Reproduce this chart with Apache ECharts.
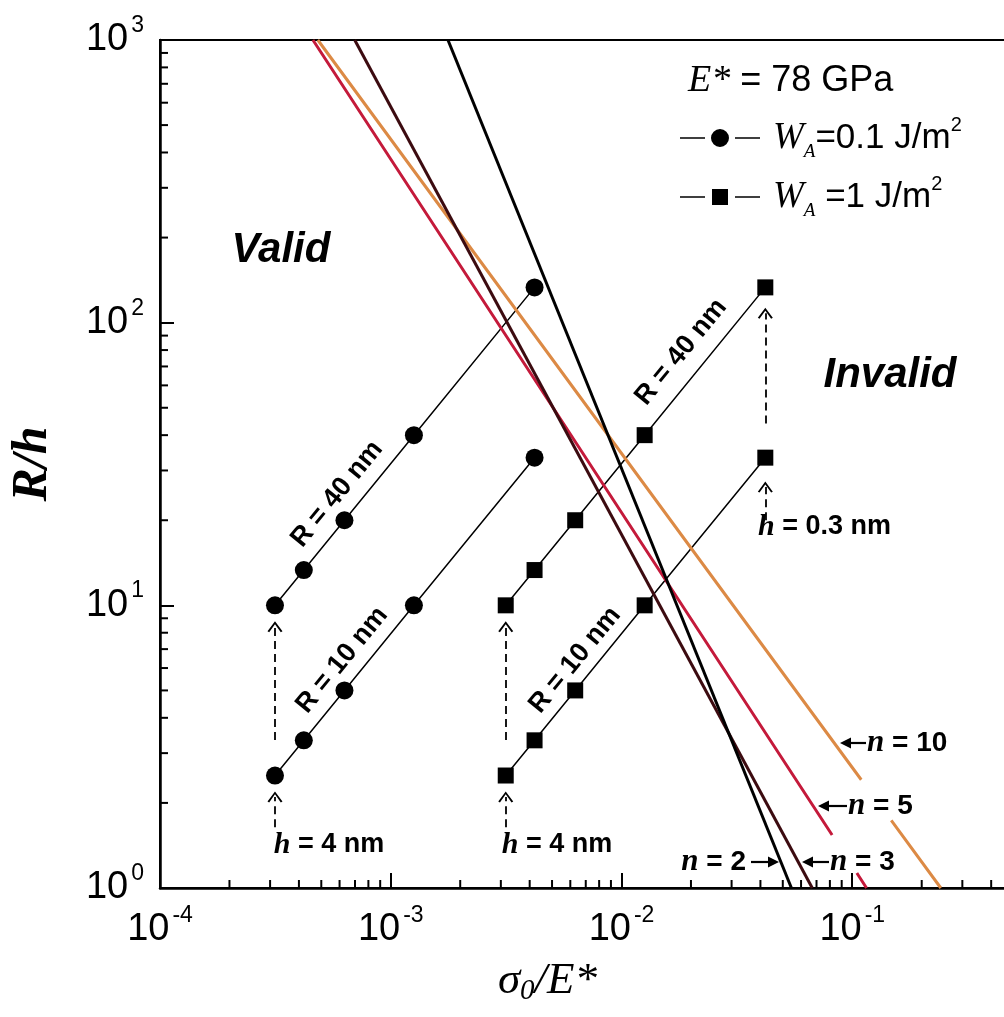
<!DOCTYPE html>
<html><head><meta charset="utf-8">
<script src="https://cdn.jsdelivr.net/npm/echarts@6/dist/echarts.min.js"></script>
<style>html,body{margin:0;padding:0;background:#fff}#c{width:1004px;height:1017px}</style>
</head><body><div id="c"></div>
<script>
// ---- data ----
const hValues = [4, 3, 2, 1, 0.3];                              // h (nm)
const xCircles = [3.15e-4, 4.2e-4, 6.3e-4, 1.26e-3, 4.2e-3];    // sigma0/E*, W_A = 0.1 J/m2
const xSquares = [3.15e-3, 4.2e-3, 6.3e-3, 1.26e-2, 4.2e-2];    // sigma0/E*, W_A = 1 J/m2
const rhR40 = [10, 13.33, 20, 40, 133.3];                       // R/h, R = 40 nm
const rhR10 = [2.5, 3.33, 5, 10, 33.3];                         // R/h, R = 10 nm
// critical lines (null = gap in the drawn line)
const n2X = [1.77e-3, 0.0545],  n2Y = [1000, 1];
const n3X = [6.98e-4, 0.0671],  n3Y = [1000, 1];
const n5X = [4.6e-4, 0.0818, null, 0.1047, 0.1153], n5Y = [1000, 1.54, null, 1.13, 1];
const n10X = [4.83e-4, 0.1094, null, 0.1476, 0.242], n10Y = [1000, 2.415, null, 1.734, 1];
// dashed arrows: [x, yFrom, yTo]
const dashArrows = [
  [3.15e-4, 1.64, 2.1], [3.15e-4, 3.34, 8.4],
  [3.15e-3, 1.64, 2.1], [3.15e-3, 3.34, 8.4],
  [4.2e-2, 20, 26.2], [4.2e-2, 44, 108]
];

const sans = 'Liberation Sans', serif = 'Liberation Serif';
const pair = (xs, ys) => xs.map((x, i) => (x === null ? [null, '-'] : [x, ys[i]]));

// minor ticks (log 2..9 per decade)
const minorTicks = [];
for (let d = -4; d <= -1; d++) for (let k = 2; k <= 9; k++) minorTicks.push([k * Math.pow(10, d), 1, 0]);
for (let d = 0; d <= 2; d++) for (let k = 2; k <= 9; k++) minorTicks.push([1e-4, k * Math.pow(10, d), 1]);

const chevron = 'path://M8,0 L16,11 L14.2,12 L8,3.2 L1.8,12 L0,11 Z';
const iconCircle = 'path://M0,8.3 h25 v1.4 h-25 Z M55,8.3 h25 v1.4 h-25 Z M40,0 A9,9 0 1,1 39.99,0 Z';
const iconSquare = 'path://M0,7.3 h25 v1.4 h-25 Z M55,7.3 h25 v1.4 h-25 Z M32,0 h16 v16 h-16 Z';

const tickRich = {
  b: {fontFamily: sans, fontSize: 38, lineHeight: 52, color: '#000'},
  s: {fontFamily: sans, fontSize: 23, lineHeight: 22, verticalAlign: 'top', padding: [0, 0, 0, 3], color: '#000'}
};
const pow10 = v => '{b|10}{s|' + Math.round(Math.log10(v)) + '}';

const markerLine = {color: '#000', width: 1.5};

const chart = echarts.init(document.getElementById('c'));
chart.setOption({
  animation: false,
  backgroundColor: '#fff',
  grid: {left: 160, top: 40, width: 923, height: 848, show: true, borderColor: '#000', borderWidth: 2,
         containLabel: false, outerBoundsMode: 'none'},
  xAxis: {
    type: 'log', logBase: 10, min: 1e-4, max: 1,
    axisLine: {lineStyle: {color: '#000', width: 2.5}},
    axisTick: {inside: true, length: 15, lineStyle: {color: '#000', width: 2}},
    splitLine: {show: false},
    axisLabel: {formatter: pow10, rich: tickRich, margin: 16},
    name: '{i|σ}{sub|0}{i|/E*}', nameLocation: 'middle', nameGap: 68,
    nameTextStyle: {padding: [0, 148, 0, 0], rich: {
      i: {fontFamily: serif, fontStyle: 'italic', fontSize: 45, lineHeight: 50, color: '#000'},
      sub: {fontFamily: serif, fontStyle: 'italic', fontSize: 29, lineHeight: 29, verticalAlign: 'bottom', color: '#000'}
    }}
  },
  yAxis: {
    type: 'log', logBase: 10, min: 1, max: 1000,
    axisLine: {lineStyle: {color: '#000', width: 2.5}},
    axisTick: {inside: true, length: 14, lineStyle: {color: '#000', width: 2}},
    splitLine: {show: false},
    axisLabel: {formatter: pow10, rich: tickRich, margin: 16},
    name: 'R/h', nameLocation: 'middle', nameGap: 102,
    nameTextStyle: {fontFamily: serif, fontStyle: 'italic', fontWeight: 'bold', fontSize: 50, color: '#000'}
  },
  legend: {
    data: [{name: 'WA01', icon: iconCircle}, {name: 'WA1', icon: iconSquare}],
    orient: 'vertical', left: 675, top: 110, itemGap: 13, padding: 5,
    itemWidth: 80, itemHeight: 18, selectedMode: false, symbolKeepAspect: true,
    formatter: n => n === 'WA01' ? '{w|W}{a|A}{t|=0.1 J/m}{s|2}' : '{w|W}{a|A}{t| =1 J/m}{s|2}',
    textStyle: {rich: {
      w: {fontFamily: serif, fontStyle: 'italic', fontSize: 37, lineHeight: 46, padding: [0, 0, 0, 8], color: '#000'},
      a: {fontFamily: serif, fontStyle: 'italic', fontSize: 19, lineHeight: 18, verticalAlign: 'bottom', color: '#000'},
      t: {fontFamily: sans, fontSize: 35, lineHeight: 46, color: '#000'},
      s: {fontFamily: sans, fontSize: 20, lineHeight: 22, verticalAlign: 'top', color: '#000'}
    }}
  },
  series: [
    {type: 'custom', coordinateSystem: 'cartesian2d', silent: true, clip: false, z: 6,
     data: minorTicks,
     renderItem: (params, api) => {
       const p = api.coord([api.value(0), api.value(1)]);
       const len = 8;
       const shape = api.value(2) === 0 ? {x1: p[0], y1: p[1], x2: p[0], y2: p[1] - len}
                                        : {x1: p[0], y1: p[1], x2: p[0] + len, y2: p[1]};
       return {type: 'line', shape, style: {stroke: '#000', lineWidth: 2}};
     }},
    {name: 'WA01', type: 'line', data: pair(xCircles, rhR40), symbol: 'circle', symbolSize: 18,
     itemStyle: {color: '#000'}, lineStyle: markerLine, z: 2,
     markLine: {silent: true, symbol: ['none', chevron], symbolSize: [15, 11], label: {show: false},
       lineStyle: {type: [8, 5], color: '#000', width: 1.8},
       data: dashArrows.map(a => [{coord: [a[0], a[1]]}, {coord: [a[0], a[2]]}])}},
    {name: 'WA01', type: 'line', data: pair(xCircles, rhR10), symbol: 'circle', symbolSize: 18,
     itemStyle: {color: '#000'}, lineStyle: markerLine, z: 2},
    {name: 'WA1', type: 'line', data: pair(xSquares, rhR40), symbol: 'rect', symbolSize: 16,
     itemStyle: {color: '#000'}, lineStyle: markerLine, z: 2},
    {name: 'WA1', type: 'line', data: pair(xSquares, rhR10), symbol: 'rect', symbolSize: 16,
     itemStyle: {color: '#000'}, lineStyle: markerLine, z: 2},
    {name: 'n = 10', type: 'line', data: pair(n10X, n10Y), showSymbol: false, symbol: 'none',
     lineStyle: {color: '#dc8a45', width: 3}, z: 3},
    {name: 'n = 5', type: 'line', data: pair(n5X, n5Y), showSymbol: false, symbol: 'none',
     lineStyle: {color: '#c41a3b', width: 3}, z: 3},
    {name: 'n = 3', type: 'line', data: pair(n3X, n3Y), showSymbol: false, symbol: 'none',
     lineStyle: {color: '#3c0b10', width: 3}, z: 3},
    {name: 'n = 2', type: 'line', data: pair(n2X, n2Y), showSymbol: false, symbol: 'none',
     lineStyle: {color: '#000', width: 3}, z: 3}
  ]
});

// ---- annotations ----
const g = [];
function txt(x, y, rich, text, align, extra) {
  g.push(Object.assign({type: 'text', x, y, z: 20, silent: true,
    style: {text, rich, align: align || 'left', verticalAlign: 'middle', fill: '#000'}}, extra || {}));
}
const boldSans = s => ({fontFamily: sans, fontWeight: 'bold', fontSize: s, fill: '#000'});
const itSerifB = s => ({fontFamily: serif, fontStyle: 'italic', fontWeight: 'bold', fontSize: s, fill: '#000'});

txt(688, 81, {e: {fontFamily: serif, fontStyle: 'italic', fontSize: 38, fill: '#000'},
              t: {fontFamily: sans, fontSize: 36, fill: '#000'}}, '{e|E*}{t| = 78 GPa}', 'left');
const bigIt = {v: {fontFamily: sans, fontStyle: 'italic', fontWeight: 'bold', fontSize: 42, fill: '#000'}};
txt(281, 250, bigIt, '{v|Valid}', 'center');
txt(890, 375, bigIt, '{v|Invalid}', 'center');

const rot = Math.atan2(282.7, 231);
const rRich = {r: boldSans(27)};
[[337, 494, '40'], [342, 660, '10'], [681, 352, '40'], [575, 660, '10']].forEach(p =>
  txt(p[0], p[1], rRich, '{r|R = ' + p[2] + ' nm}', 'center', {rotation: rot}));

const hRich = {h: itSerifB(30), t: boldSans(27)};
txt(329, 845, hRich, '{h|h}{t| = 4 nm}', 'center');
txt(557, 845, hRich, '{h|h}{t| = 4 nm}', 'center');
txt(758, 527, hRich, '{h|h}{t| = 0.3 nm}', 'left');

const nRich = {n: itSerifB(31), t: boldSans(28)};
txt(867, 743, nRich, '{n|n}{t| = 10}', 'left');
txt(848, 806, nRich, '{n|n}{t| = 5}', 'left');
txt(830, 862, nRich, '{n|n}{t| = 3}', 'left');
txt(746, 862, nRich, '{n|n}{t| = 2}', 'right');

function arrow(xTail, xHead, y) {
  const d = xHead > xTail ? 1 : -1;
  g.push({type: 'line', z: 20, silent: true, shape: {x1: xTail, y1: y, x2: xHead - d * 6, y2: y}, style: {stroke: '#000', lineWidth: 2.2}});
  g.push({type: 'polygon', z: 20, silent: true, shape: {points: [[xHead, y], [xHead - d * 11, y - 5.5], [xHead - d * 11, y + 5.5]]}, style: {fill: '#000'}});
}
arrow(866, 840, 743);
arrow(847, 818, 806);
arrow(829, 802, 862);
arrow(751, 779, 862);

chart.setOption({graphic: g});
</script></body></html>
